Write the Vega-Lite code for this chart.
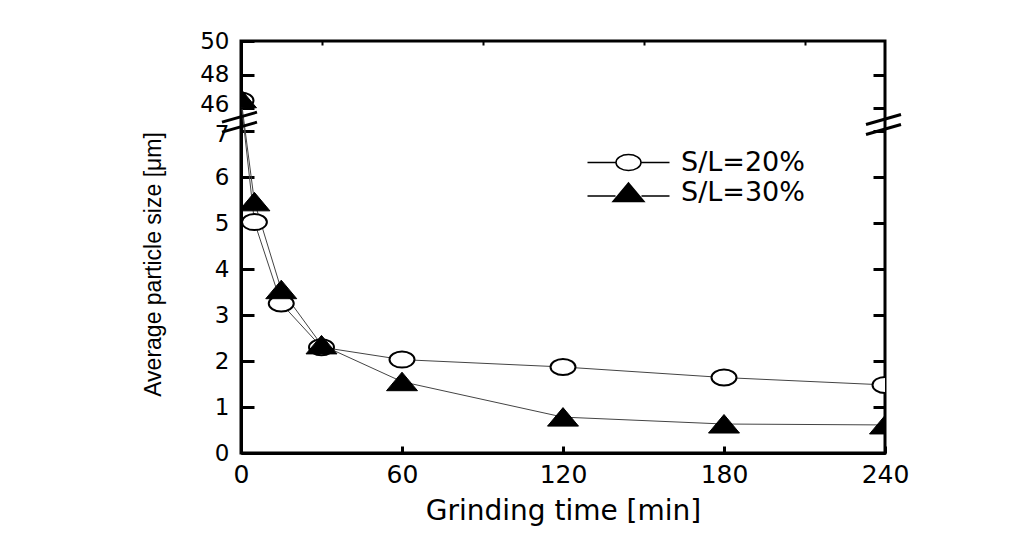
{
  "$schema": "https://vega.github.io/schema/vega-lite/v6.json",
  "autosize": {"type": "none"},
  "padding": {"left": 241, "top": 41, "right": 131, "bottom": 94},
  "width": 644,
  "height": 412,
  "background": "white",
  "config": {
    "view": {"stroke": "black", "strokeWidth": 3},
    "axis": {"grid": false, "domainColor": "black", "domainWidth": 3, "tickColor": "black", "labelColor": "black", "titleColor": "black", "labelFont": "DejaVu Sans", "titleFont": "DejaVu Sans", "titleFontWeight": "normal", "labelOverlap": false},
    "legend": {"labelFont": "DejaVu Sans"}
  },
  "datasets": {
    "size": [
      {"series": "S/L=20%", "time": 0, "size": 46.45},
      {"series": "S/L=20%", "time": 5, "size": 5.02},
      {"series": "S/L=20%", "time": 15, "size": 3.25},
      {"series": "S/L=20%", "time": 30, "size": 2.3},
      {"series": "S/L=20%", "time": 60, "size": 2.03},
      {"series": "S/L=20%", "time": 120, "size": 1.87},
      {"series": "S/L=20%", "time": 180, "size": 1.64},
      {"series": "S/L=20%", "time": 240, "size": 1.48},
      {"series": "S/L=30%", "time": 0, "size": 46.55},
      {"series": "S/L=30%", "time": 5, "size": 5.46},
      {"series": "S/L=30%", "time": 15, "size": 3.55},
      {"series": "S/L=30%", "time": 30, "size": 2.35},
      {"series": "S/L=30%", "time": 60, "size": 1.55},
      {"series": "S/L=30%", "time": 120, "size": 0.78},
      {"series": "S/L=30%", "time": 180, "size": 0.63},
      {"series": "S/L=30%", "time": 240, "size": 0.61}
    ],
    "breaks": [
      {"time": 0, "size": 22},
      {"time": 240, "size": 18}
    ]
  },
  "resolve": {"axis": {"x": "independent", "y": "independent"}},
  "layer": [
    {
      "data": {"name": "size"},
      "mark": {"type": "line", "color": "#444", "strokeWidth": 1, "clip": true},
      "encoding": {
        "x": {"field": "time", "type": "quantitative",
          "scale": {"domain": [0, 240], "nice": false, "zero": false},
          "axis": {"title": "Grinding time [min]", "values": [0, 60, 120, 180, 240], "tickSize": -7, "tickWidth": 3, "labelPadding": 16, "labelFontSize": 25, "titleFontSize": 28, "titlePadding": 10, "labelFlush": false}},
        "y": {"field": "size", "type": "quantitative",
          "scale": {"domain": [0, 7, 46, 50], "range": [412, 90, 67, 0], "nice": false, "zero": false},
          "axis": {"title": "Average particle size [μm]", "values": [0, 1, 2, 3, 4, 5, 6, 7, 46, 48, 50], "tickSize": -13, "tickWidth": 3, "labelPadding": 25, "labelFontSize": 23,
            "labelOffset": {"condition": [{"test": "datum.value === 46", "value": -4}, {"test": "datum.value === 7", "value": 3}], "value": 0},
            "titleFont": "Liberation Sans", "titleFontSize": 23, "titlePadding": 34, "titleY": 223, "labelFlush": false}},
        "detail": {"field": "series"}
      }
    },
    {
      "data": {"name": "size"},
      "transform": [{"filter": "datum.series === 'S/L=20%'"}],
      "mark": {"type": "point", "shape": "M-1.25,0A1.25,0.8 0 1,0 1.25,0A1.25,0.8 0 1,0 -1.25,0Z", "size": 400, "filled": true, "fill": "white", "stroke": "black", "strokeWidth": 2, "opacity": 1, "clip": true},
      "encoding": {
        "x": {"field": "time", "type": "quantitative",
          "axis": {"title": null, "values": [30, 90, 150, 210], "tickSize": -4, "tickWidth": 2, "labels": false, "domain": false}},
        "y": {"field": "size", "type": "quantitative",
          "axis": {"title": null, "orient": "right", "values": [0, 1, 2, 3, 4, 5, 6, 7, 46, 48], "tickSize": -12, "tickWidth": 3, "labels": false, "domain": false}}
      }
    },
    {
      "data": {"name": "size"},
      "transform": [{"filter": "datum.series === 'S/L=30%'"}],
      "mark": {"type": "point", "shape": "M0,-0.95L1.55,0.9L-1.55,0.9Z", "size": 400, "filled": true, "fill": "black", "stroke": "black", "strokeWidth": 1, "opacity": 1, "clip": true},
      "encoding": {
        "x": {"field": "time", "type": "quantitative", "axis": null},
        "y": {"field": "size", "type": "quantitative", "axis": null}
      }
    },
    {
      "data": {"name": "breaks"},
      "mark": {"type": "point", "shape": "M-1.9,0L1.6,-1M-1.9,1L1.6,0", "size": 400, "filled": false, "stroke": "black", "strokeWidth": 3, "opacity": 1},
      "encoding": {
        "x": {"field": "time", "type": "quantitative", "axis": null},
        "y": {"field": "size", "type": "quantitative", "axis": null}
      }
    },
    {
      "data": {"name": "size"},
      "transform": [{"filter": "false"}],
      "mark": {"type": "point", "size": 400, "filled": true, "stroke": "black", "strokeWidth": 1.5, "opacity": 1},
      "encoding": {
        "shape": {"field": "series", "type": "nominal",
          "scale": {"domain": ["S/L=20%", "S/L=30%"], "range": [
            "M-4.1,0L-1.25,0M1.25,0L4.1,0M-1.25,0A1.25,0.8 0 1,0 1.25,0A1.25,0.8 0 1,0 -1.25,0Z",
            "M-4.1,0.35L-1.3,0.35M1.3,0.35L4.1,0.35M0,-0.95L1.55,0.9L-1.55,0.9Z"]},
          "legend": {"title": null, "orient": "none", "legendX": 374, "legendY": 108, "labelFontSize": 27, "labelOffset": 39, "symbolSize": 400, "symbolStrokeColor": "black", "symbolStrokeWidth": 1.5, "symbolOpacity": 1, "rowPadding": 2,
            "encode": {"symbols": {"update": {"stroke": {"value": "black"}, "strokeWidth": {"value": 1.5}, "size": {"value": 400}, "opacity": {"value": 1}}}}}},
        "fill": {"field": "series", "type": "nominal",
          "scale": {"domain": ["S/L=20%", "S/L=30%"], "range": ["white", "black"]},
          "legend": {"title": null, "orient": "none", "legendX": 374, "legendY": 108, "labelFontSize": 27, "labelOffset": 39, "symbolSize": 400, "symbolStrokeColor": "black", "symbolStrokeWidth": 1.5, "symbolOpacity": 1, "rowPadding": 2,
            "encode": {"symbols": {"update": {"stroke": {"value": "black"}, "strokeWidth": {"value": 1.5}, "size": {"value": 400}, "opacity": {"value": 1}}}}}}
      }
    }
  ]
}
